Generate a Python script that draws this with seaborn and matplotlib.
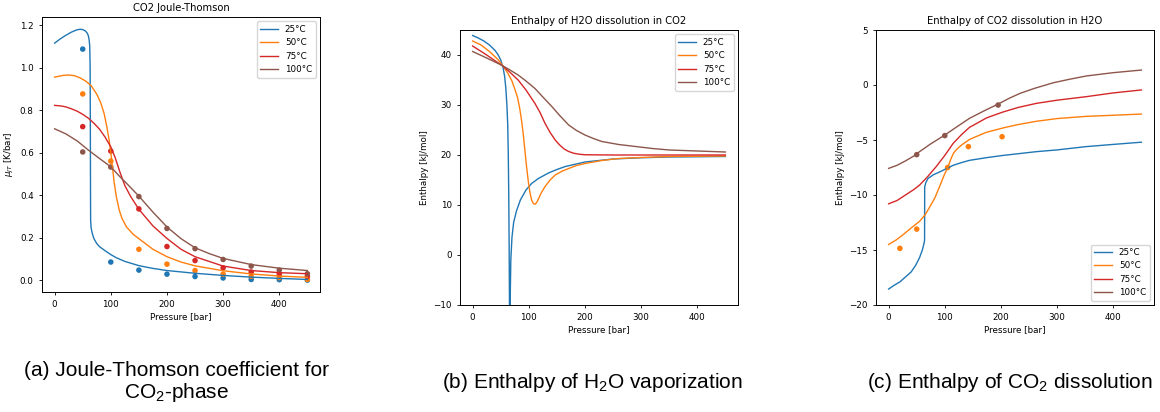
import numpy as np
import pandas as pd
import matplotlib
matplotlib.use("Agg")
import matplotlib.pyplot as plt
import seaborn as sns

temps = ["25°C", "50°C", "75°C", "100°C"]
palette = {"25°C": "tab:blue", "50°C": "tab:orange", "75°C": "tab:red", "100°C": "tab:brown"}

# ---------------- Panel (a): CO2 Joule-Thomson ----------------
a_p_25 = [0, 10, 20, 30, 40, 45, 50, 55, 58, 60, 61.5, 62.5, 63.2, 63.6, 63.9, 64.1, 65, 67, 70, 75, 80, 90, 100, 110, 125, 150, 175, 200, 250, 300, 350, 400, 450]
a_v_25 = [1.115, 1.135, 1.152, 1.167, 1.178, 1.18, 1.179, 1.172, 1.162, 1.15, 1.13, 1.1, 1.0, 0.7, 0.4, 0.28, 0.245, 0.22, 0.195, 0.172, 0.157, 0.138, 0.12, 0.105, 0.088, 0.068, 0.055, 0.045, 0.032, 0.022, 0.014, 0.008, 0.003]
a_p_50 = [0, 15, 25, 35, 45, 55, 65, 75, 82, 88, 93, 97, 100, 103, 106, 110, 115, 120, 128, 140, 150, 175, 200, 225, 250, 300, 350, 400, 450]
a_v_50 = [0.955, 0.963, 0.965, 0.962, 0.952, 0.937, 0.915, 0.875, 0.835, 0.785, 0.72, 0.66, 0.6, 0.53, 0.46, 0.39, 0.33, 0.29, 0.25, 0.215, 0.195, 0.145, 0.11, 0.085, 0.067, 0.044, 0.029, 0.019, 0.013]
a_p_75 = [0, 10, 20, 30, 40, 50, 60, 70, 80, 90, 100, 108, 116, 125, 135, 150, 175, 200, 225, 250, 300, 350, 400, 450]
a_v_75 = [0.822, 0.82, 0.815, 0.806, 0.795, 0.78, 0.762, 0.738, 0.71, 0.672, 0.627, 0.575, 0.51, 0.445, 0.395, 0.333, 0.255, 0.196, 0.145, 0.11, 0.066, 0.045, 0.035, 0.03]
a_p_100 = [0, 20, 40, 60, 80, 100, 115, 130, 150, 175, 200, 225, 250, 275, 300, 350, 400, 450]
a_v_100 = [0.712, 0.688, 0.655, 0.612, 0.572, 0.533, 0.49, 0.45, 0.395, 0.32, 0.25, 0.195, 0.152, 0.125, 0.102, 0.073, 0.056, 0.045]

a_pts_p = [50, 100, 150, 200, 250, 300, 350, 400, 450]
a_pts_25 = [1.087, 0.085, 0.047, 0.028, 0.017, 0.01, 0.003, 0.002, 0.0]
a_pts_50 = [0.876, 0.56, 0.145, 0.075, 0.045, 0.028, 0.018, 0.012, 0.003]
a_pts_75 = [0.722, 0.607, 0.335, 0.158, 0.092, 0.058, 0.038, 0.028, 0.018]
a_pts_100 = [0.603, 0.532, 0.393, 0.243, 0.148, 0.097, 0.066, 0.047, 0.03]

# ---------------- Panel (b): Enthalpy of H2O dissolution in CO2 ----------------
b_p_25 = [0, 10, 20, 30, 40, 45, 50, 54, 57, 59, 61, 62.5, 63.5, 64.3, 65, 65.5, 65.8, 66.5, 67, 68, 70, 73, 78, 85, 95, 105, 117, 135, 150, 165, 200, 250, 300, 350, 450]
b_v_25 = [43.9, 43.4, 42.8, 42.0, 40.9, 40.1, 39.0, 37.6, 35.7, 33.5, 30.0, 26.0, 20.0, 12.0, 2.0, -8.0, -15.0, -15.0, -8.0, -1.0, 3.5, 6.5, 8.8, 11.0, 13.0, 14.3, 15.3, 16.4, 17.1, 17.7, 18.6, 19.2, 19.45, 19.6, 19.7]
b_p_50 = [0, 15, 30, 45, 55, 63, 70, 75, 80, 84, 87, 90, 93, 96, 99, 102, 105, 108, 111, 114, 118, 122, 129, 138, 147, 160, 171, 185, 200, 230, 260, 300, 350, 450]
b_v_50 = [42.8, 42.0, 40.7, 39.1, 37.7, 36.3, 34.8, 33.2, 31.5, 29.2, 27.0, 24.3, 21.0, 17.7, 14.8, 12.5, 11.0, 10.3, 10.15, 10.5, 11.4, 12.4, 13.7, 15.0, 16.0, 16.8, 17.3, 17.9, 18.3, 18.9, 19.3, 19.5, 19.7, 19.8]
b_p_75 = [0, 25, 51, 65, 81, 95, 111, 120, 129, 138, 147, 155, 163, 171, 180, 190, 200, 250, 450]
b_v_75 = [41.8, 40.0, 38.0, 36.7, 35.0, 33.0, 30.3, 28.5, 26.3, 24.5, 23.0, 22.0, 21.2, 20.7, 20.35, 20.15, 20.05, 20.0, 20.0]
b_p_100 = [0, 25, 51, 65, 81, 95, 111, 125, 141, 155, 171, 185, 200, 215, 230, 260, 290, 320, 350, 400, 450]
b_v_100 = [40.7, 39.4, 38.0, 37.1, 36.0, 34.8, 33.3, 31.6, 29.7, 27.9, 26.0, 24.9, 24.0, 23.3, 22.7, 22.1, 21.7, 21.3, 21.0, 20.8, 20.6]

# ---------------- Panel (c): Enthalpy of CO2 dissolution in H2O ----------------
c_p_25 = [0, 10, 20, 30, 40, 48, 55, 60, 63, 64, 64.2, 66, 70, 80, 91, 105, 115, 130, 144, 175, 204, 263, 300, 352, 400, 450]
c_v_25 = [-18.55, -18.2, -17.9, -17.45, -17.0, -16.4, -15.7, -15.0, -14.4, -14.1, -9.3, -8.9, -8.5, -8.15, -7.9, -7.55, -7.3, -7.05, -6.85, -6.6, -6.4, -6.06, -5.9, -5.6, -5.4, -5.2]
c_p_50 = [0, 13, 26, 40, 55, 65, 73, 82, 91, 98, 106, 111, 116, 122, 130, 144, 160, 174, 204, 230, 263, 300, 352, 400, 450]
c_v_50 = [-14.5, -14.1, -13.6, -13.0, -12.4, -11.8, -11.1, -10.3, -9.2, -8.3, -7.4, -6.7, -6.15, -5.8, -5.45, -4.95, -4.6, -4.3, -3.9, -3.6, -3.3, -3.05, -2.85, -2.75, -2.64]
c_p_75 = [0, 15, 30, 45, 55, 70, 85, 100, 115, 130, 144, 160, 174, 190, 204, 230, 263, 300, 352, 400, 450]
c_v_75 = [-10.8, -10.5, -10.0, -9.5, -9.1, -8.3, -7.4, -6.4, -5.3, -4.5, -3.85, -3.4, -3.0, -2.7, -2.45, -2.05, -1.67, -1.38, -1.06, -0.72, -0.45]
c_p_100 = [0, 15, 30, 45, 55, 75, 100, 120, 144, 170, 195, 215, 234, 260, 293, 320, 352, 400, 450]
c_v_100 = [-7.58, -7.3, -6.9, -6.45, -6.06, -5.35, -4.55, -3.85, -3.03, -2.35, -1.73, -1.2, -0.76, -0.3, 0.2, 0.5, 0.82, 1.12, 1.36]

c_pts_p_50 = [20, 50, 105, 142, 202]
c_pts_50 = [-14.85, -13.1, -7.5, -5.6, -4.7]
c_pts_p_100 = [50, 100, 195]
c_pts_100 = [-6.33, -4.6, -1.82]


def long_df(ps, vs):
    frames = []
    for t, p, v in zip(temps, ps, vs):
        frames.append(pd.DataFrame({"P": p, "V": v, "T": t}))
    return pd.concat(frames, ignore_index=True)


df_a = long_df([a_p_25, a_p_50, a_p_75, a_p_100], [a_v_25, a_v_50, a_v_75, a_v_100])
df_a_pts = long_df([a_pts_p] * 4, [a_pts_25, a_pts_50, a_pts_75, a_pts_100])
df_b = long_df([b_p_25, b_p_50, b_p_75, b_p_100], [b_v_25, b_v_50, b_v_75, b_v_100])
df_c = long_df([c_p_25, c_p_50, c_p_75, c_p_100], [c_v_25, c_v_50, c_v_75, c_v_100])
df_c_pts = pd.concat([
    pd.DataFrame({"P": c_pts_p_50, "V": c_pts_50, "T": "50°C"}),
    pd.DataFrame({"P": c_pts_p_100, "V": c_pts_100, "T": "100°C"}),
], ignore_index=True)

fs_tick = 6.3
fs_title = 7.2
plt.rcParams.update({
    "xtick.labelsize": fs_tick, "ytick.labelsize": fs_tick,
    "axes.labelsize": fs_tick, "axes.titlesize": fs_title,
    "legend.fontsize": fs_tick, "axes.linewidth": 0.7,
    "xtick.major.width": 0.6, "ytick.major.width": 0.6,
    "xtick.major.size": 2.5, "ytick.major.size": 2.5,
    "axes.titlepad": 4,
})

fig = plt.figure(figsize=(11.6, 4.12), dpi=100)
W, H = 1160, 412
def add_ax(l, t, r, b):
    return fig.add_axes([l / W, 1 - b / H, (r - l) / W, (b - t) / H])

ax_a = add_ax(42, 17, 320, 292)
ax_b = add_ax(460, 30, 738, 305)
ax_c = add_ax(876, 30, 1154, 305)

lw = 1.0
sns.lineplot(data=df_a, x="P", y="V", hue="T", hue_order=temps, palette=palette,
             sort=False, estimator=None, lw=lw, ax=ax_a)
sns.scatterplot(data=df_a_pts, x="P", y="V", hue="T", hue_order=temps, palette=palette,
                s=16, linewidth=0, legend=False, ax=ax_a)
ax_a.set_xlim(-22.5, 472.5)
ax_a.set_ylim(-0.056, 1.238)
ax_a.set_title("CO2 Joule-Thomson")
ax_a.set_xlabel("Pressure [bar]")
ax_a.set_ylabel(r"$\mu_{JT}$ [K/bar]")
ax_a.legend(loc="upper right")

sns.lineplot(data=df_b, x="P", y="V", hue="T", hue_order=temps, palette=palette,
             sort=False, estimator=None, lw=lw, ax=ax_b)
ax_b.set_xlim(-22.5, 472.5)
ax_b.set_ylim(-10, 45)
ax_b.set_yticks([-10, 0, 10, 20, 30, 40])
ax_b.set_title("Enthalpy of H2O dissolution in CO2")
ax_b.set_xlabel("Pressure [bar]")
ax_b.set_ylabel("Enthalpy [kJ/mol]")
ax_b.legend(loc="upper right")

sns.lineplot(data=df_c, x="P", y="V", hue="T", hue_order=temps, palette=palette,
             sort=False, estimator=None, lw=lw, ax=ax_c)
sns.scatterplot(data=df_c_pts, x="P", y="V", hue="T", hue_order=temps, palette=palette,
                s=16, linewidth=0, legend=False, ax=ax_c)
ax_c.set_xlim(-22.5, 472.5)
ax_c.set_ylim(-20, 5)
ax_c.set_yticks([-20, -15, -10, -5, 0, 5])
ax_c.set_title("Enthalpy of CO2 dissolution in H2O")
ax_c.set_xlabel("Pressure [bar]")
ax_c.set_ylabel("Enthalpy [kJ/mol]")
ax_c.legend(loc="lower right")

for ax in (ax_a, ax_b, ax_c):
    ax.set_xticks([0, 100, 200, 300, 400])
    ax.xaxis.labelpad = 2
    ax.yaxis.labelpad = 3

cap_kw = dict(fontfamily="Liberation Sans", fontsize=15, ha="center", va="center")
fig.text(177 / W, 1 - 370 / H, "(a) Joule-Thomson coefficient for", **cap_kw)
fig.text(177 / W, 1 - 392 / H, r"CO$\mathregular{_2}$-phase", **cap_kw)
fig.text(592 / W, 1 - 382 / H, r"(b) Enthalpy of H$\mathregular{_2}$O vaporization", **cap_kw)
fig.text(1010 / W, 1 - 382 / H, r"(c) Enthalpy of CO$\mathregular{_2}$ dissolution", **cap_kw)

fig.savefig("out.png", dpi=100)
